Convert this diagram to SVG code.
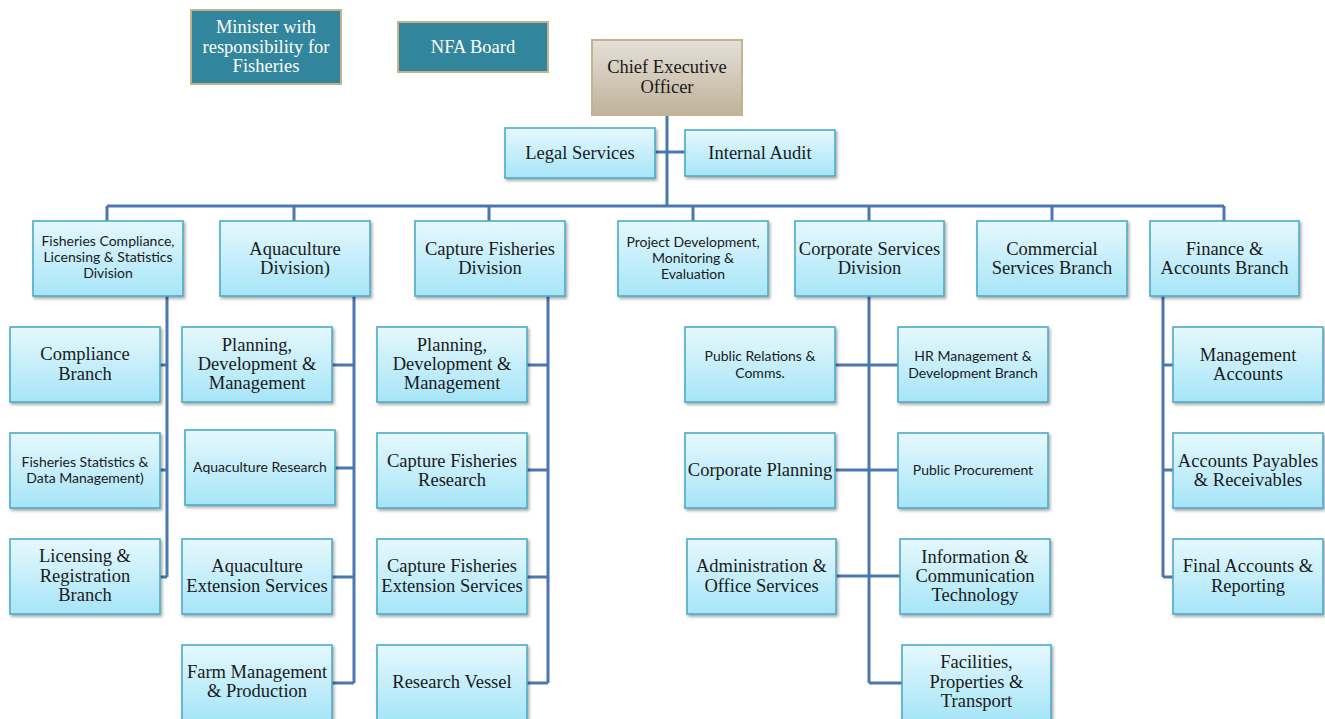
<svg xmlns="http://www.w3.org/2000/svg" width="1325" height="719" viewBox="0 0 1325 719">
<defs>
<linearGradient id="cyan" x1="0" y1="0" x2="0" y2="1">
<stop offset="0" stop-color="#e6f8fd"/>
<stop offset="1" stop-color="#a6e5f8"/>
</linearGradient>
<linearGradient id="tan" x1="0" y1="0" x2="0" y2="1">
<stop offset="0" stop-color="#e4e0d8"/>
<stop offset="1" stop-color="#c0b29a"/>
</linearGradient>
<filter id="sh" x="-10%" y="-10%" width="125%" height="130%">
<feDropShadow dx="1.5" dy="2" stdDeviation="1.5" flood-color="#000" flood-opacity="0.35"/>
</filter>
<style>
.box{fill:url(#cyan);stroke:#4bacc6;stroke-width:1.6;filter:url(#sh)}
.teal{fill:#31859c;stroke:#c4b28c;stroke-width:2}
.ceo{fill:url(#tan);stroke:#c4b28c;stroke-width:2}
.s{font-family:"Liberation Serif","Times New Roman",serif;font-size:18.5px;fill:#1a1a1a;text-anchor:middle}
.w{fill:#ffffff}
.n{font-family:Lato,"Noto Sans",sans-serif;font-size:14px;fill:#1a1a1a;text-anchor:middle}
.c{fill:none;stroke:#4a77b0;stroke-width:3}
</style>
</defs>
<g id="connectors">
<path class="c" d="M667 115V206M655 152H685M107 206H1224M107 206V221M294 206V221M489 206V221M693 206V221M869 206V221M1052 206V221M1224 206V221"/>
<path class="c" d="M167 296V577M160 365H167M160 470H167M160 577H167"/>
<path class="c" d="M354 296V683M332 365H354M335 468H354M332 577H354M332 683H354"/>
<path class="c" d="M548 296V683M527 365H548M527 470H548M527 577H548M527 683H548"/>
<path class="c" d="M869 296V683M835 365H898M835 470H898M835 576H900M869 683H902"/>
<path class="c" d="M1163 296V577M1163 365H1173M1163 470H1173M1163 577H1173"/>
</g>
<g id="minister"><rect class="teal" x="191" y="10" width="150" height="74"/><text class="s w" x="266" y="33">Minister with</text><text class="s w" x="266" y="53">responsibility for</text><text class="s w" x="266" y="72">Fisheries</text></g>
<g id="nfa-board"><rect class="teal" x="398" y="22" width="150" height="50"/><text class="s w" x="473" y="53">NFA Board</text></g>
<g id="ceo"><rect class="ceo" x="592" y="40" width="150" height="75"/><text class="s" x="667" y="73">Chief Executive</text><text class="s" x="667" y="93">Officer</text></g>
<g id="legal"><rect class="box" x="505" y="128" width="150" height="50"/><text class="s" x="580" y="159">Legal Services</text></g>
<g id="audit"><rect class="box" x="685" y="130" width="150" height="46"/><text class="s" x="760" y="159">Internal Audit</text></g>

<g id="fcls"><rect class="box" x="33" y="221" width="150" height="75"/><text class="n" x="108" y="246">Fisheries Compliance,</text><text class="n" x="108" y="262">Licensing &amp; Statistics</text><text class="n" x="108" y="278">Division</text></g>
<g id="aqua"><rect class="box" x="220" y="221" width="150" height="75"/><text class="s" x="295" y="255">Aquaculture</text><text class="s" x="295" y="274">Division)</text></g>
<g id="capture"><rect class="box" x="415" y="221" width="150" height="75"/><text class="s" x="490" y="255">Capture Fisheries</text><text class="s" x="490" y="274">Division</text></g>
<g id="project"><rect class="box" x="618" y="221" width="150" height="75"/><text class="n" x="693" y="247">Project Development,</text><text class="n" x="693" y="263">Monitoring &amp;</text><text class="n" x="693" y="279">Evaluation</text></g>
<g id="corporate"><rect class="box" x="795" y="221" width="149" height="75"/><text class="s" x="869.5" y="255">Corporate Services</text><text class="s" x="869.5" y="274">Division</text></g>
<g id="commercial"><rect class="box" x="977" y="221" width="150" height="75"/><text class="s" x="1052" y="255">Commercial</text><text class="s" x="1052" y="274">Services Branch</text></g>
<g id="finance"><rect class="box" x="1150" y="221" width="149" height="75"/><text class="s" x="1224.5" y="255">Finance &amp;</text><text class="s" x="1224.5" y="274">Accounts Branch</text></g>

<g id="compliance"><rect class="box" x="10" y="327" width="150" height="75"/><text class="s" x="85" y="360">Compliance</text><text class="s" x="85" y="380">Branch</text></g>
<g id="stats"><rect class="box" x="10" y="433" width="150" height="75"/><text class="n" x="85" y="467">Fisheries Statistics &amp;</text><text class="n" x="85" y="483">Data Management)</text></g>
<g id="licensing"><rect class="box" x="10" y="539" width="150" height="75"/><text class="s" x="85" y="562">Licensing &amp;</text><text class="s" x="85" y="582">Registration</text><text class="s" x="85" y="601">Branch</text></g>

<g id="aqua-planning"><rect class="box" x="182" y="327" width="150" height="75"/><text class="s" x="257" y="351">Planning,</text><text class="s" x="257" y="370">Development &amp;</text><text class="s" x="257" y="389">Management</text></g>
<g id="aqua-research"><rect class="box" x="185" y="430" width="150" height="75"/><text class="n" x="260" y="472">Aquaculture Research</text></g>
<g id="aqua-extension"><rect class="box" x="182" y="539" width="150" height="75"/><text class="s" x="257" y="572">Aquaculture</text><text class="s" x="257" y="592">Extension Services</text></g>
<g id="farm"><rect class="box" x="182" y="645" width="150" height="75"/><text class="s" x="257" y="678">Farm Management</text><text class="s" x="257" y="697">&amp; Production</text></g>

<g id="cap-planning"><rect class="box" x="377" y="327" width="150" height="75"/><text class="s" x="452" y="351">Planning,</text><text class="s" x="452" y="370">Development &amp;</text><text class="s" x="452" y="389">Management</text></g>
<g id="cap-research"><rect class="box" x="377" y="433" width="150" height="75"/><text class="s" x="452" y="467">Capture Fisheries</text><text class="s" x="452" y="486">Research</text></g>
<g id="cap-extension"><rect class="box" x="377" y="539" width="150" height="75"/><text class="s" x="452" y="572">Capture Fisheries</text><text class="s" x="452" y="592">Extension Services</text></g>
<g id="vessel"><rect class="box" x="377" y="645" width="150" height="75"/><text class="s" x="452" y="688">Research Vessel</text></g>

<g id="pr"><rect class="box" x="685" y="327" width="150" height="75"/><text class="n" x="760" y="361">Public Relations &amp;</text><text class="n" x="760" y="378">Comms.</text></g>
<g id="hr"><rect class="box" x="898" y="327" width="150" height="75"/><text class="n" x="973" y="361">HR Management &amp;</text><text class="n" x="973" y="378">Development Branch</text></g>
<g id="corp-planning"><rect class="box" x="685" y="433" width="150" height="75"/><text class="s" x="760" y="476">Corporate Planning</text></g>
<g id="procurement"><rect class="box" x="898" y="433" width="150" height="75"/><text class="n" x="973" y="475">Public Procurement</text></g>
<g id="admin"><rect class="box" x="687" y="539" width="149" height="75"/><text class="s" x="761.5" y="572">Administration &amp;</text><text class="s" x="761.5" y="592">Office Services</text></g>
<g id="ict"><rect class="box" x="900" y="539" width="150" height="75"/><text class="s" x="975" y="563">Information &amp;</text><text class="s" x="975" y="582">Communication</text><text class="s" x="975" y="601">Technology</text></g>
<g id="facilities"><rect class="box" x="902" y="645" width="149" height="75"/><text class="s" x="976.5" y="668">Facilities,</text><text class="s" x="976.5" y="688">Properties &amp;</text><text class="s" x="976.5" y="707">Transport</text></g>

<g id="mgmt-accounts"><rect class="box" x="1173" y="327" width="150" height="75"/><text class="s" x="1248" y="361">Management</text><text class="s" x="1248" y="380">Accounts</text></g>
<g id="payables"><rect class="box" x="1173" y="433" width="150" height="75"/><text class="s" x="1248" y="467">Accounts Payables</text><text class="s" x="1248" y="486">&amp; Receivables</text></g>
<g id="final"><rect class="box" x="1173" y="539" width="150" height="75"/><text class="s" x="1248" y="572">Final Accounts &amp;</text><text class="s" x="1248" y="592">Reporting</text></g>
</svg>
